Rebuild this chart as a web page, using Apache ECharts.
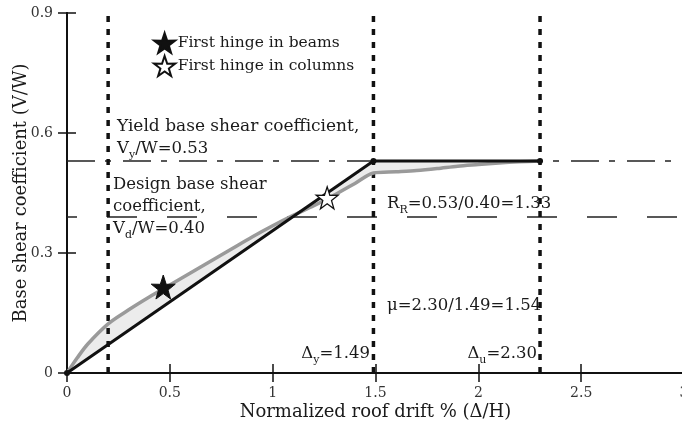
<!DOCTYPE html>
<html>
<head>
<meta charset="utf-8">
<script src="https://cdn.jsdelivr.net/npm/echarts@6/dist/echarts.min.js"></script>
<style>html,body{margin:0;padding:0;background:#fff}#c{width:682px;height:427px}</style>
</head>
<body>
<div id="c"></div>
<script>
// ---- data ----
const xTicks = [0, 0.5, 1, 1.5, 2, 2.5, 3];
const yTicks = [0, 0.3, 0.6, 0.9];
// pushover capacity curve (gray)
const pushX = [0, 0.05, 0.1, 0.2, 0.3, 0.4, 0.5, 0.6, 0.7, 0.8, 0.9, 1.0, 1.1, 1.2, 1.3, 1.4, 1.49, 1.6, 1.7, 1.8, 1.9, 2.0, 2.1, 2.2, 2.3];
const pushY = [0, 0.038, 0.072, 0.123, 0.158, 0.19, 0.22, 0.25, 0.28, 0.31, 0.34, 0.368, 0.394, 0.418, 0.445, 0.474, 0.5, 0.503, 0.506, 0.511, 0.517, 0.521, 0.525, 0.528, 0.53];
// idealized bilinear curve (black)
const biX = [0, 1.49, 2.30];
const biY = [0, 0.53, 0.53];
// reference lines
const yieldCoef = 0.53;
const designCoef = 0.39;
const driftLines = [0.2, 1.49, 2.30];
// hinges
const beamHinge = [0.468, 0.215];
const columnHinge = [1.265, 0.438];

const FONT = 'DejaVu Serif';
const pushData = pushX.map((x, i) => [x, pushY[i]]);
const biData = biX.map((x, i) => [x, biY[i]]);
const STAR = 'path://M50,0 L61.8,35.1 L98.1,34.5 L69.1,56.7 L79.4,90.5 L50,70 L20.6,90.5 L30.9,56.7 L1.9,34.5 L38.2,35.1 Z';

const chart = echarts.init(document.getElementById('c'));
const axisCommon = {
  type: 'value',
  axisLine: { show: true, lineStyle: { color: '#111', width: 2 } },
  axisTick: { show: true, inside: true, length: 9, lineStyle: { color: '#111', width: 1.5 } },
  splitLine: { show: false },
};
const series = [];
// shaded area between curves
series.push({
  type: 'custom', silent: true, z: 1,
  data: [[0, 0]],
  renderItem: function (params, api) {
    const pts = pushData.map(p => api.coord(p)).concat(biData.slice().reverse().map(p => api.coord(p)));
    return { type: 'polygon', shape: { points: pts }, style: { fill: '#ececec', stroke: null } };
  }
});
series.push({ type: 'line', z: 2, silent: true, symbol: 'none', data: [[0, yieldCoef], [3, yieldCoef]],
  lineStyle: { color: '#222', width: 1.5, type: [28, 10, 6, 12] } });
series.push({ type: 'line', z: 2, silent: true, symbol: 'none', data: [[0, designCoef], [3, designCoef]],
  lineStyle: { color: '#222', width: 1.5, type: [30, 30], dashOffset: 20 } });
driftLines.forEach(d => {
  series.push({ type: 'line', z: 3, silent: true, symbol: 'none', data: [[d, 0], [d, 0.9]],
    lineStyle: { color: '#111', width: 3.5, type: [6, 7] } });
});
series.push({ type: 'line', z: 4, silent: true, symbol: 'none', smooth: 0.3, data: pushData,
  lineStyle: { color: '#9a9a9a', width: 3.5 } });
series.push({ type: 'line', z: 5, silent: true, symbol: 'circle', symbolSize: 6, showSymbol: true, data: biData,
  itemStyle: { color: '#111' }, lineStyle: { color: '#111', width: 3 } });
series.push({ name: 'First hinge in beams', type: 'scatter', z: 6, symbol: STAR, symbolSize: 24, data: [beamHinge],
  itemStyle: { color: '#111', borderColor: '#111', borderWidth: 1, opacity: 1 } });
series.push({ name: 'First hinge in columns', type: 'scatter', z: 6, symbol: STAR, symbolSize: 22, data: [columnHinge],
  itemStyle: { color: '#fff', borderColor: '#111', borderWidth: 1.3, opacity: 1 } });

const txt = (left, top, text, size, align, rich) => ({
  type: 'text', left: align === 'right' ? undefined : left, right: align === 'right' ? 682 - left : undefined, top: top,
  style: { text: text, font: size + 'px ' + FONT, fill: '#1a1a1a', rich: rich || {} , textAlign: align || 'left'}
});
const sub = { s: { fontFamily: FONT, fontSize: 11, fill: '#1a1a1a', verticalAlign: 'bottom', padding: [0, 0, -4, 0] } };

chart.setOption({
  animation: false,
  backgroundColor: '#fff',
  grid: { left: 67, top: 13, right: -2, bottom: 54, outerBoundsMode: 'none', containLabel: false },
  legend: {
    orient: 'vertical', left: 148, top: 27, itemGap: 1, itemWidth: 24, itemHeight: 20,
    textStyle: { fontFamily: FONT, fontSize: 15.5, color: '#1a1a1a', padding: [0, 0, 0, -4] },
    data: ['First hinge in beams', 'First hinge in columns'], selectedMode: false
  },
  xAxis: [
    Object.assign({}, axisCommon, { position: 'bottom', min: 0, max: 3, interval: 0.5,
      name: 'Normalized roof drift % (\u0394/H)', nameLocation: 'middle', nameGap: 30, nameMoveOverlap: false,
      nameTextStyle: { fontFamily: FONT, fontSize: 18, color: '#1a1a1a' },
      axisLabel: { margin: 13, fontFamily: FONT, fontSize: 14, color: '#333' } }),
    Object.assign({}, axisCommon, { position: 'top', min: 0, max: 3, interval: 0.5, axisLabel: { show: false } })
  ],
  yAxis: [
    Object.assign({}, axisCommon, { position: 'left', min: 0, max: 0.9, interval: 0.3,
      name: 'Base shear coefficient (V/W)', nameLocation: 'middle', nameGap: 37, nameMoveOverlap: false,
      nameTextStyle: { fontFamily: FONT, fontSize: 18, color: '#1a1a1a' },
      axisLabel: { margin: 14, fontFamily: FONT, fontSize: 14, color: '#333' } }),
    Object.assign({}, axisCommon, { position: 'right', min: 0, max: 0.9, interval: 0.3, axisLabel: { show: false } })
  ],
  series: series,
  graphic: [
    txt(117, 118, 'Yield base shear coefficient,', 17),
    txt(117, 140, 'V{s|y}/W=0.53', 16.5, 'left', sub),
    txt(113, 176, 'Design base shear', 16.5),
    txt(113, 198, 'coefficient,', 16.5),
    txt(113, 220, 'V{s|d}/W=0.40', 16.5, 'left', sub),
    txt(387, 195, 'R{s|R}=0.53/0.40=1.33', 16.5, 'left', sub),
    txt(387, 297, '\u03bc=2.30/1.49=1.54', 16.5),
    txt(370, 345, '\u0394{s|y}=1.49', 16.5, 'right', sub),
    txt(537, 345, '\u0394{s|u}=2.30', 16.5, 'right', sub)
  ]
});
</script>
</body>
</html>
